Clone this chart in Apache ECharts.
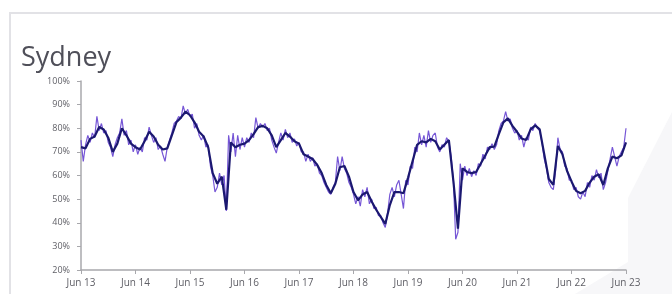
<!DOCTYPE html>
<html>
<head>
<meta charset="utf-8">
<script src="https://cdn.jsdelivr.net/npm/echarts@6/dist/echarts.min.js"></script>
<style>
  html, body { margin: 0; padding: 0; background: #fff; }
  #main { width: 672px; height: 294px; }
</style>
</head>
<body>
<div id="main"></div>
<script>
var yearLabels = ['Jun 13', 'Jun 14', 'Jun 15', 'Jun 16', 'Jun 17', 'Jun 18',
    'Jun 19', 'Jun 20', 'Jun 21', 'Jun 22', 'Jun 23'];

// smoothed occupancy, one value per month from Jun 13
var trendValues = [
    72, 71.5, 75.5, 76.5, 80.5, 79.5, 76, 70, 73.5, 80, 77, 73.5,
    72, 71, 74.5, 78.5, 76.5, 73, 71, 71.5, 77, 82.5, 84.5, 87,
    85.5, 82.5, 78.5, 76.5, 72, 61, 56.5, 59.5, 45.5, 74, 72, 73,
    73.5, 75, 77.5, 80.5, 81, 80, 77, 72, 75, 78, 76.5, 74.5,
    73.5, 69, 68, 67, 64.5, 61, 56, 52.5, 56.5, 63.5, 64, 59.5,
    53, 49.5, 52, 53, 49, 45.5, 42.5, 39.5, 47.5, 53, 53, 52.5,
    59, 66, 73, 74.5, 74, 75.5, 74.5, 71, 73, 75, 57.5, 37.5,
    63, 61.5, 61, 61.5, 65, 68.5, 72, 72.2, 77.5, 82.5, 84.2, 81,
    78.5, 75.7, 75, 79.5, 81.2, 79.5, 69, 58.5, 56, 72.5, 69, 62,
    57.5, 53.5, 52.5, 53.5, 57, 59.5, 60.5, 56, 63, 68, 67.3, 68.5,
    74
];

// raw occupancy, two values per month from Jun 13
var rawValues = [
    75, 66, 73, 77, 74, 78, 76, 85, 79, 82, 78, 79, 74, 72, 68, 73, 76, 78, 84, 77, 79, 73, 75, 70,
    73, 69, 72, 70, 76, 75, 80.5, 77, 74, 76, 71, 72.5, 69, 66, 72, 75, 78, 82, 83, 85, 84, 89.5, 86, 88,
    85, 86, 80, 82, 77, 75, 77, 72, 73, 64, 60, 53, 55, 61, 56, 60, 45, 77, 70, 78, 68, 77, 71, 76,
    72, 76, 74, 78, 76, 84.5, 80, 82, 80.5, 82, 79, 80, 75, 72, 69.5, 74, 78, 75, 79.5, 76, 78, 74, 75.5, 72.5,
    74, 70, 70, 66, 69, 66, 67.5, 64, 65, 61, 60, 57, 55, 53, 52, 55, 57, 68, 62, 68, 63, 61, 57, 55,
    52, 48, 51, 47, 54, 51, 55, 48, 50, 46, 46.5, 43, 43, 40, 38, 44, 52, 55, 51, 56, 58, 52, 46, 58,
    56, 64, 63, 72, 70, 78, 73, 77, 72, 79, 74, 77, 78, 72, 70, 73, 72, 76, 74.5, 68, 58, 33, 36, 65,
    58, 64, 60, 63, 59.5, 62, 60, 65, 64, 69, 67, 72, 71, 73.5, 71, 73, 79, 82, 83, 87, 83, 84, 80, 78,
    79, 75, 77, 72, 76, 75, 80.5, 79, 82, 80, 79, 74, 67, 63, 57, 55, 54, 62, 76, 71, 70, 64, 63, 58,
    58, 54, 55, 51, 50, 53, 51, 57, 55, 60, 58, 62.5, 59, 61, 54, 57, 62, 67, 72, 68, 64, 68, 70, 72,
    80
];

var myChart = echarts.init(document.getElementById('main'));

var trendData = trendValues.map(function(v, i) { return [i, v]; });
var rawData = rawValues.map(function(v, i) { return [i / 2, v]; });

var axisColor = '#a8a8ac';
var labelColor = '#5f5f66';

var option = {
    animation: false,
    backgroundColor: '#fff',
    title: {
        text: 'Sydney',
        left: 16,
        top: 40,
        textStyle: {
            fontFamily: 'Open Sans',
            fontSize: 27,
            fontWeight: 'normal',
            color: '#4f4f59'
        }
    },
    graphic: [{
        type: 'polygon',
        silent: true,
        z: -10,
        shape: { points: [[575, 294], [628, 262], [628, 198], [672, 112], [672, 294]] },
        style: { fill: '#f7f7f9' }
    }, {
        type: 'polyline',
        silent: true,
        shape: { points: [[10, 300], [10, 13], [680, 13]] },
        style: { stroke: '#e2e2e6', lineWidth: 2, fill: null }
    }],
    grid: {
        left: 81,
        right: 46,
        top: 81,
        bottom: 24
    },
    xAxis: {
        type: 'value',
        min: 0,
        max: 120,
        interval: 12,
        axisLine: { lineStyle: { color: axisColor, width: 1.5 } },
        axisTick: { length: 4, lineStyle: { color: axisColor } },
        splitLine: { show: false },
        axisLabel: {
            margin: 8,
            fontFamily: 'Open Sans',
            fontSize: 10,
            color: labelColor,
            formatter: function(v) { return yearLabels[v / 12]; }
        }
    },
    yAxis: {
        type: 'value',
        min: 20,
        max: 100,
        interval: 10,
        axisLine: { show: true, lineStyle: { color: axisColor, width: 1.5 } },
        axisTick: { show: true, length: 4, lineStyle: { color: axisColor } },
        splitLine: { show: false },
        axisLabel: {
            margin: 11,
            fontFamily: 'Open Sans',
            fontSize: 9,
            color: labelColor,
            formatter: '{value}%'
        }
    },
    series: [{
        name: 'Daily',
        type: 'line',
        data: rawData,
        showSymbol: false,
        symbol: 'none',
        lineStyle: { color: '#7656d6', width: 1.2 },
        z: 2
    }, {
        name: 'Trend',
        type: 'line',
        data: trendData,
        showSymbol: false,
        symbol: 'none',
        lineStyle: { color: '#1b1870', width: 2.2 },
        z: 3
    }]
};

myChart.setOption(option);
</script>
</body>
</html>
